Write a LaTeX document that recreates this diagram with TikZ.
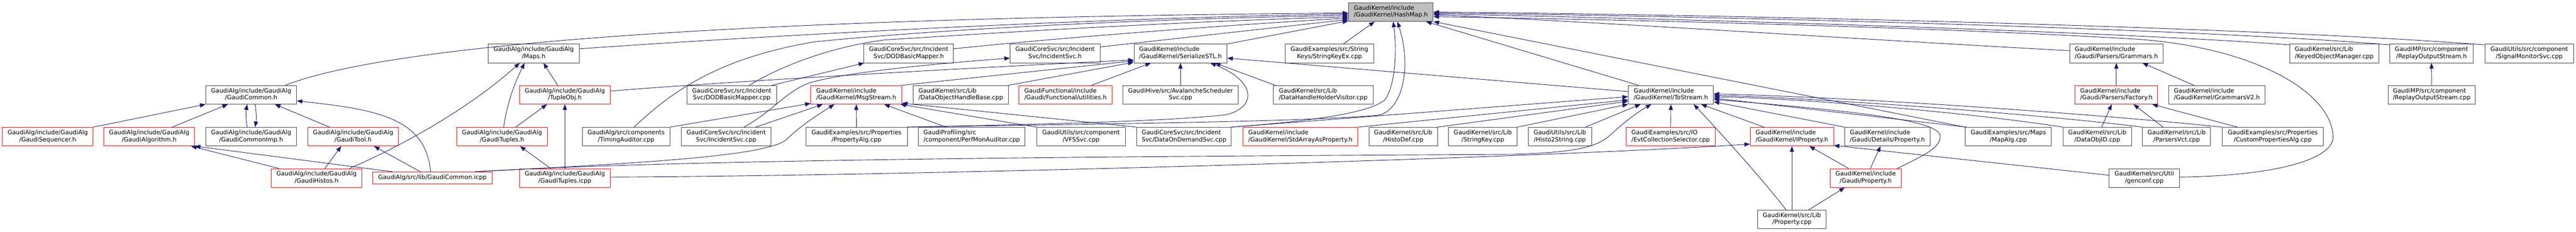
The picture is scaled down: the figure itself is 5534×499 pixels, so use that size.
\documentclass[tikz,border=0pt]{standalone}
\usepackage{fontspec}
\setmainfont{DejaVu Sans}
\usetikzlibrary{calc,arrows.meta}
\definecolor{edgec}{HTML}{191970}
\definecolor{boxc}{HTML}{404040}
\definecolor{rootf}{HTML}{BFBFBF}
\newcommand\lbl[2]{\begin{tabular}{@{}l@{}}#1\\\multicolumn{1}{@{}c@{}}{#2}\end{tabular}}
\begin{document}
\begin{tikzpicture}[x=1bp,y=-1bp,
 nb/.style={draw=boxc, line width=1bp, fill=white, minimum height=40bp, inner sep=0pt, font=\fontsize{12.9bp}{15bp}\selectfont},
 nr/.style={nb, draw=red},
 nroot/.style={nb, fill=rootf},
 edge/.style={draw=edgec, line width=1bp, -{Triangle[length=12bp,width=9bp]}}]
\fill[white] (0,0) rectangle (5534,499);
\useasboundingbox (0,0) rectangle (5534,499);
% row 0
\node[nroot, minimum width=182bp] (hashmap) at (2988,26) {\lbl{GaudiKernel/include}{/GaudiKernel/HashMap.h}};
% row 1
\node[nb, minimum width=195bp] (maps) at (1146.5,115) {\lbl{GaudiAlg/include/GaudiAlg}{/Maps.h}};
\node[nb, minimum width=192bp] (dodh) at (1952,115) {\lbl{GaudiCoreSvc/src/Incident}{Svc/DODBasicMapper.h}};
\node[nb, minimum width=193bp] (inch) at (2266.5,115) {\lbl{GaudiCoreSvc/src/Incident}{Svc/IncidentSvc.h}};
\node[nb, minimum width=200bp] (serial) at (2536,115) {\lbl{GaudiKernel/include}{/GaudiKernel/SerializeSTL.h}};
\node[nb, minimum width=190bp] (skex) at (2856,115) {\lbl{GaudiExamples/src/String}{Keys/StringKeyEx.cpp}};
\node[nb, minimum width=201bp] (grammars) at (4546.5,115) {\lbl{GaudiKernel/include}{/Gaudi/Parsers/Grammars.h}};
\node[nb, minimum width=191bp] (keyed) at (5014.5,115) {\lbl{GaudiKernel/src/Lib}{/KeyedObjectManager.cpp}};
\node[nb, minimum width=179bp] (replayh) at (5223.5,115) {\lbl{GaudiMP/src/component}{/ReplayOutputStream.h}};
\node[nb, minimum width=191bp] (signal) at (5433.5,115) {\lbl{GaudiUtils/src/component}{/SignalMonitorSvc.cpp}};
% row 2
\node[nb, minimum width=195bp] (common) at (539.5,204) {\lbl{GaudiAlg/include/GaudiAlg}{/GaudiCommon.h}};
\node[nr, minimum width=195bp] (tupleobj) at (1213.5,204) {\lbl{GaudiAlg/include/GaudiAlg}{/TupleObj.h}};
\node[nb, minimum width=192bp] (dodcpp) at (1572,204) {\lbl{GaudiCoreSvc/src/Incident}{Svc/DODBasicMapper.cpp}};
\node[nr, minimum width=195bp] (msg) at (1839.5,204) {\lbl{GaudiKernel/include}{/GaudiKernel/MsgStream.h}};
\node[nb, minimum width=204bp] (dohb) at (2064,204) {\lbl{GaudiKernel/src/Lib}{/DataObjectHandleBase.cpp}};
\node[nr, minimum width=200bp] (util) at (2289,204) {\lbl{GaudiFunctional/include}{/Gaudi/Functional/utilities.h}};
\node[nb, minimum width=248bp] (aval) at (2536,204) {\lbl{GaudiHive/src/AvalancheScheduler}{Svc.cpp}};
\node[nb, minimum width=215bp] (dhhv) at (2842.5,204) {\lbl{GaudiKernel/src/Lib}{/DataHandleHolderVisitor.cpp}};
\node[nb, minimum width=183bp] (tostream) at (3589.5,204) {\lbl{GaudiKernel/include}{/GaudiKernel/ToStream.h}};
\node[nr, minimum width=177bp] (factory) at (4546.5,204) {\lbl{GaudiKernel/include}{/Gaudi/Parsers/Factory.h}};
\node[nb, minimum width=207bp] (gv2) at (4762.5,204) {\lbl{GaudiKernel/include}{/GaudiKernel/GrammarsV2.h}};
\node[nb, minimum width=188bp] (replaycpp) at (5224,204) {\lbl{GaudiMP/src/component}{/ReplayOutputStream.cpp}};
% row 3
\node[nr, minimum width=195bp] (seq) at (102.5,294) {\lbl{GaudiAlg/include/GaudiAlg}{/GaudiSequencer.h}};
\node[nr, minimum width=195bp] (algo) at (320.5,294) {\lbl{GaudiAlg/include/GaudiAlg}{/GaudiAlgorithm.h}};
\node[nb, minimum width=195bp] (commonimp) at (539.5,294) {\lbl{GaudiAlg/include/GaudiAlg}{/GaudiCommonImp.h}};
\node[nr, minimum width=195bp] (tool) at (758.5,294) {\lbl{GaudiAlg/include/GaudiAlg}{/GaudiTool.h}};
\node[nr, minimum width=195bp] (tuplesh) at (1078.5,294) {\lbl{GaudiAlg/include/GaudiAlg}{/GaudiTuples.h}};
\node[nb, minimum width=188bp] (timing) at (1345,294) {\lbl{GaudiAlg/src/components}{/TimingAuditor.cpp}};
\node[nb, minimum width=192bp] (inccpp) at (1560,294) {\lbl{GaudiCoreSvc/src/Incident}{Svc/IncidentSvc.cpp}};
\node[nb, minimum width=218bp] (propalg) at (1840,294) {\lbl{GaudiExamples/src/Properties}{/PropertyAlg.cpp}};
\node[nb, minimum width=229bp] (perfmon) at (2087.5,294) {\lbl{GaudiProfiling/src}{/component/PerfMonAuditor.cpp}};
\node[nb, minimum width=191bp] (vfs) at (2322.5,294) {\lbl{GaudiUtils/src/component}{/VFSSvc.cpp}};
\node[nb, minimum width=203bp] (dods) at (2543.5,294) {\lbl{GaudiCoreSvc/src/Incident}{Svc/DataOnDemandSvc.cpp}};
\node[nr, minimum width=247bp] (stdarr) at (2793.5,294) {\lbl{GaudiKernel/include}{/GaudiKernel/StdArrayAsProperty.h}};
\node[nb, minimum width=147bp] (histodef) at (3014.5,294) {\lbl{GaudiKernel/src/Lib}{/HistoDef.cpp}};
\node[nb, minimum width=147bp] (strkey) at (3185.5,294) {\lbl{GaudiKernel/src/Lib}{/StringKey.cpp}};
\node[nb, minimum width=136bp] (h2s) at (3351,294) {\lbl{GaudiUtils/src/Lib}{/Histo2String.cpp}};
\node[nr, minimum width=192bp] (evtsel) at (3589,294) {\lbl{GaudiExamples/src/IO}{/EvtCollectionSelector.cpp}};
\node[nr, minimum width=179bp] (iprop) at (3849.5,294) {\lbl{GaudiKernel/include}{/GaudiKernel/IProperty.h}};
\node[nb, minimum width=183bp] (detprop) at (4054.5,294) {\lbl{GaudiKernel/include}{/Gaudi/Details/Property.h}};
\node[nb, minimum width=185bp] (mapalg) at (4314.5,294) {\lbl{GaudiExamples/src/Maps}{/MapAlg.cpp}};
\node[nb, minimum width=147bp] (dataobjid) at (4505.5,294) {\lbl{GaudiKernel/src/Lib}{/DataObjID.cpp}};
\node[nb, minimum width=146bp] (parsvct) at (4676,294) {\lbl{GaudiKernel/src/Lib}{/ParsersVct.cpp}};
\node[nb, minimum width=217bp] (custprop) at (4882.5,294) {\lbl{GaudiExamples/src/Properties}{/CustomPropertiesAlg.cpp}};
% row 4
\node[nr, minimum width=194bp] (histos) at (680,383) {\lbl{GaudiAlg/include/GaudiAlg}{/GaudiHistos.h}};
\node[nr, minimum width=256bp, minimum height=26bp] (commonicpp) at (929,383) {\begin{tabular}{@{}c@{}}GaudiAlg/src/lib/GaudiCommon.icpp\end{tabular}};
\node[nr, minimum width=195bp] (tuplesicpp) at (1213.5,383) {\lbl{GaudiAlg/include/GaudiAlg}{/GaudiTuples.icpp}};
\node[nr, minimum width=152bp] (gprop) at (4008,383) {\lbl{GaudiKernel/include}{/Gaudi/Property.h}};
\node[nb, minimum width=151bp] (genconf) at (4606.5,383) {\lbl{GaudiKernel/src/Util}{/genconf.cpp}};
% row 5
\node[nb, minimum width=147bp] (propcpp) at (3849.5,472) {\lbl{GaudiKernel/src/Lib}{/Property.cpp}};

% ---- edges to HashMap (left)
\draw[edge] ($(common.north)+(73.5,0)$) .. controls (800,110) and (1400,40) .. ($(hashmap.west)+(0,2)$);
\draw[edge] ($(maps.east)+(0,-10)$) .. controls (1600,80) and (2300,40) .. ($(hashmap.west)+(0,4)$);
\draw[edge] ($(timing.north)+(17,0)$) .. controls (1440,200) and (1540,125) .. (1750,90) .. controls (2100,55) and (2600,38) .. ($(hashmap.west)+(0,7)$);
\draw[edge] ($(dodcpp.north)+(38,0)$) .. controls (1680,140) and (1790,100) .. (1900,86) .. controls (2300,60) and (2600,45) .. ($(hashmap.west)+(0,10)$);
\draw[edge] ($(dodh.east)+(0,-10)$) .. controls (2150,94) and (2500,62) .. ($(hashmap.west)+(0,13)$);
\draw[edge] ($(inch.east)+(0,-14)$) -- ($(hashmap.west)+(0,16)$);
\draw[edge] (serial.north east) -- ($(hashmap.west)+(0,19)$);
% ---- edges to HashMap (bottom)
\draw[edge] ($(skex.north)+(30,0)$) -- ($(hashmap.south)+(-35,0)$);
\draw[edge] (dods.north east) .. controls (2800,262) and (2940,245) .. (2975,215) .. controls (3000,180) and (3000,100) .. ($(hashmap.south)+(5,0)$);
\draw[edge] (propalg.north east) .. controls (2400,266) and (2800,262) .. (2960,248) .. controls (3010,240) and (3035,150) .. ($(hashmap.south)+(14,0)$);
\draw[edge] ($(tostream.north)+(-69.5,0)$) -- ($(hashmap.south east)+(-16,0)$);
\draw[edge] (mapalg.north west) -- (hashmap.south east);
% ---- edges to HashMap (right)
\draw[edge] ($(grammars.west)+(0,-6)$) .. controls (4000,85) and (3400,45) .. ($(hashmap.east)+(0,6)$);
\draw[edge] ($(keyed.north west)+(0,2)$) .. controls (4500,65) and (3500,38) .. ($(hashmap.east)+(0,4)$);
\draw[edge] ($(replayh.north west)+(0,2)$) .. controls (4700,60) and (3600,33) .. ($(hashmap.east)+(0,2)$);
\draw[edge] ($(signal.north west)+(0,2)$) .. controls (4800,55) and (3600,30) .. (hashmap.east);
\draw[edge] ($(genconf.east)+(0,-2)$) .. controls (4900,378) and (5015,340) .. (5012,293) .. controls (5008,200) and (4850,105) .. (4600,85) .. controls (4200,60) and (3500,42) .. ($(hashmap.east)+(0,10)$);
% ---- GaudiCoreSvc
\draw[edge] ($(dodcpp.north east)+(-10,0)$) -- ($(dodh.south west)+(1,0)$);
\draw[edge] ($(inccpp.north)+(38,0)$) .. controls (1660,240) and (1690,195) .. (1740,178) .. controls (1820,155) and (2000,138) .. ($(inch.west)+(0,10)$);
% ---- MsgStream
\draw[edge] (timing.north east) -- ($(msg.south west)+(0,-2)$);
\draw[edge] ($(inccpp.north east)+(-33,0)$) -- ($(msg.south west)+(26,0)$);
\draw[edge] (propalg.north) -- (msg.south);
\draw[edge] ($(perfmon.north)+(-55,0)$) -- ($(msg.south)+(60,0)$);
\draw[edge] (vfs.north west) -- ($(msg.south east)+(-3,0)$);
\draw[edge] (dods.north west) -- ($(msg.east)+(0,18)$);
\draw[edge] ($(commonicpp.north east)+(-37,0)$) .. controls (1400,350) and (1650,335) .. (1690,300) .. controls (1720,270) and (1760,245) .. ($(msg.south)+(-47,0)$);
% ---- SerializeSTL
\draw[edge] (msg.north east) -- ($(serial.west)+(0,16)$);
\draw[edge] ($(tupleobj.east)+(0,-8)$) .. controls (1500,180) and (2000,150) .. ($(serial.west)+(0,14)$);
\draw[edge] (dohb.north east) -- ($(serial.west)+(0,19)$);
\draw[edge] ($(util.north)+(56,0)$) -- ($(serial.south west)+(37,0)$);
\draw[edge] (aval.north) -- (serial.south);
\draw[edge] ($(dhhv.north west)+(5,0)$) -- ($(serial.south)+(74,0)$);
\draw[edge] ($(tostream.west)+(0,-7)$) -- ($(serial.east)+(0,10)$);
\draw[edge] (propalg.north east) .. controls (2200,268) and (2500,262) .. (2633,247) .. controls (2700,232) and (2700,175) .. ($(serial.south)+(64,0)$);
% ---- ToStream
\draw[edge] (dods.north east) -- ($(tostream.west)+(0,4)$);
\draw[edge] (stdarr.north east) -- ($(tostream.west)+(0,11)$);
\draw[edge] (histodef.north east) -- ($(tostream.west)+(0,14)$);
\draw[edge] (strkey.north east) -- (tostream.south west);
\draw[edge] ($(h2s.north east)+(-14,0)$) -- ($(tostream.south west)+(27,0)$);
\draw[edge] (evtsel.north) -- (tostream.south);
\draw[edge] ($(commonicpp.north east)+(-37,0)$) .. controls (1500,340) and (2600,336) .. (3250,332) .. controls (3380,328) and (3430,318) .. (3460,290) .. controls (3490,262) and (3520,240) .. ($(tostream.south)+(-42,0)$);
\draw[edge] ($(iprop.north west)+(30,0)$) -- ($(tostream.south east)+(-27,0)$);
\draw[edge] ($(propcpp.north)+(-12.5,0)$) .. controls (3790,390) and (3700,290) .. ($(tostream.south east)+(-43,0)$);
\draw[edge] (detprop.north west) -- ($(tostream.east)+(0,15)$);
\draw[edge] ($(gprop.north east)+(-9,0)$) .. controls (4120,340) and (4170,320) .. (4168,293) .. controls (4168,260) and (4000,240) .. ($(tostream.east)+(0,10)$);
\draw[edge] ($(mapalg.north west)+(3,0)$) -- ($(tostream.east)+(0,7)$);
\draw[edge] (dataobjid.north west) .. controls (4250,245) and (3900,213) .. ($(tostream.east)+(0,4)$);
\draw[edge] (parsvct.north west) .. controls (4400,248) and (3950,213) .. ($(tostream.east)+(0,1)$);
\draw[edge] (custprop.north west) .. controls (4500,245) and (4000,210) .. ($(tostream.east)+(0,-2)$);
% ---- Property
\draw[edge] ($(tuplesicpp.east)+(0,-2)$) .. controls (2000,378) and (3300,340) .. ($(iprop.west)+(0,16)$);
\draw[edge] ($(genconf.west)+(0,-6)$) -- ($(iprop.east)+(0,19)$);
\draw[edge] ($(gprop.north west)+(40,0)$) -- ($(iprop.south)+(37.5,0)$);
\draw[edge] ($(gprop.north)+(10,0)$) -- ($(detprop.south)+(-14.5,0)$);
\draw[edge] (propcpp.north) -- (iprop.south);
\draw[edge] ($(propcpp.north east)+(-38,0)$) -- ($(gprop.south)+(-45,0)$);
% ---- Parsers
\draw[edge] (factory.north) -- (grammars.south);
\draw[edge] ($(gv2.north)+(-49.5,0)$) -- ($(grammars.south east)+(-45,0)$);
\draw[edge] ($(dataobjid.north)+(9.5,0)$) -- ($(factory.south)+(-10,0)$);
\draw[edge] ($(parsvct.north)+(-29,0)$) -- ($(factory.south)+(37,0)$);
\draw[edge] ($(custprop.north west)+(33,0)$) -- ($(factory.south east)+(-12,0)$);
\draw[edge] (replaycpp.north) -- (replayh.south);
% ---- GaudiAlg
\draw[edge] ($(commonicpp.north)+(-86,0)$) -- (algo.south east);
\draw[edge] ($(histos.north west)+(17,0)$) -- ($(algo.south east)+(-8,0)$);
\draw[edge] ($(commonicpp.north)+(-26,0)$) -- ($(tool.south east)+(-53,0)$);
\draw[edge] ($(commonicpp.north)+(-4,0)$) .. controls (915,250) and (800,235) .. ($(common.east)+(0,13)$);
\draw[edge] ($(tool.north)+(-50.5,0)$) -- ($(common.south)+(51,0)$);
\draw[edge] ($(histos.north)+(18,0)$) -- ($(tool.south)+(-25.5,0)$);
\draw[edge] ($(histos.north east)+(-27,0)$) .. controls (850,320) and (1000,240) .. ($(maps.south west)+(68,0)$);
\draw[edge] ($(tuplesh.north)+(3.5,0)$) .. controls (1090,220) and (1105,180) .. ($(maps.south)+(-19.5,0)$);
\draw[edge] ($(tupleobj.north)+(-15.5,0)$) -- ($(maps.south)+(21,0)$);
\draw[edge] ($(tuplesh.north)+(29.5,0)$) -- ($(tupleobj.south)+(-38.5,0)$);
\draw[edge] ($(tuplesicpp.north)+(-30.5,0)$) -- ($(tuplesh.south)+(38.5,0)$);
\draw[edge] (tuplesicpp.north) -- (tupleobj.south);
\draw[edge] (seq.north east) -- (common.south west);
\draw[edge] ($(algo.north)+(49.5,0)$) -- ($(common.south west)+(48,0)$);
\draw[edge] ($(commonimp.north)+(-8.5,0)$) .. controls (528,256) and (528,242) .. ($(common.south)+(-8.5,0)$);
\draw[edge] ($(common.south)+(8.5,0)$) .. controls (551,242) and (551,256) .. ($(commonimp.north)+(8.5,0)$);
\end{tikzpicture}
\end{document}
